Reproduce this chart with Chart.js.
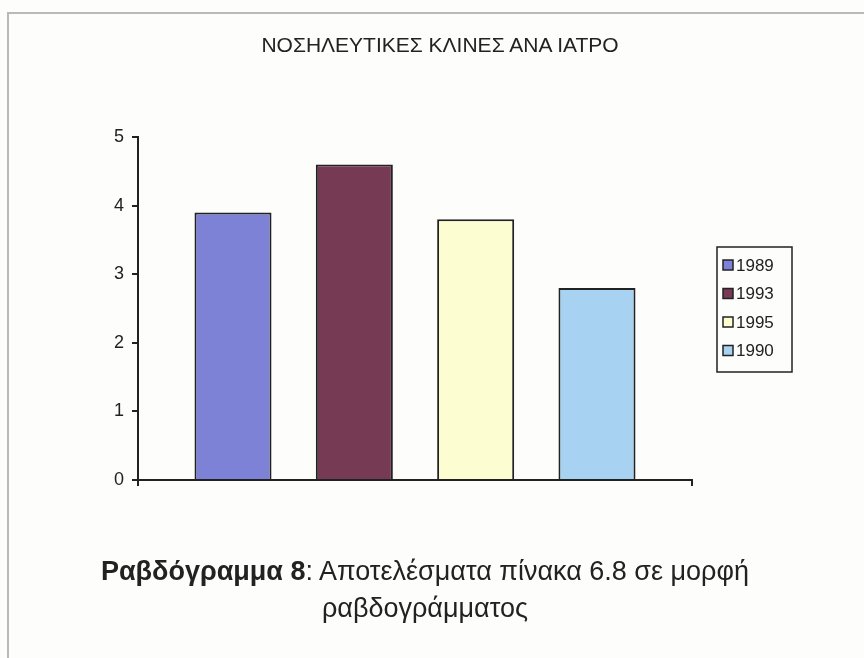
<!DOCTYPE html>
<html>
<head>
<meta charset="utf-8">
<script src="https://cdn.jsdelivr.net/npm/chart.js@4.4.1/dist/chart.umd.min.js"></script>
<style>
  html, body { margin: 0; padding: 0; background: #fdfdfb; }
  #wrap { position: relative; width: 864px; height: 658px; overflow: hidden; }
  #frame {
    position: absolute; left: 7px; top: 12px; right: -4px; bottom: -4px;
    border-top: 2px solid #b9b9b9; border-left: 2px solid #b9b9b9;
  }
  #myChart { position: absolute; left: 0; top: 0; }
  #title {
    position: absolute; left: 240px; width: 400px; top: 33px;
    text-align: center; font-family: "Liberation Sans", Arial, sans-serif;
    font-size: 21px; line-height: 24px; color: #222;
  }
  #caption {
    position: absolute; left: 0; width: 850px; top: 553px;
    text-align: center; font-family: "Liberation Sans", Arial, sans-serif;
    font-size: 27px; line-height: 37px; color: #222;
  }
</style>
</head>
<body>
<div id="wrap">
  <div id="frame"></div>
  <canvas id="myChart" width="864" height="658"></canvas>
  <div id="title">ΝΟΣΗΛΕΥΤΙΚΕΣ ΚΛΙΝΕΣ ΑΝΑ ΙΑΤΡΟ</div>
  <div id="caption"><b>Ραβδόγραμμα 8</b>: Αποτελέσματα πίνακα 6.8 σε μορφή<br>ραβδογράμματος</div>
</div>
<script>
// series (one bar per year, single category)
const years = ["1989", "1993", "1995", "1990"];
const beds = [3.9, 4.6, 3.8, 2.8];
const colors = ["#7d82d6", "#763a55", "#fdfdd2", "#a8d2f2"];
const yTicks = [0, 1, 2, 3, 4, 5];

const FONT = "'Liberation Sans', Arial, sans-serif";

// framed legend box at the right
const boxLegend = {
  id: "boxLegend",
  afterDraw(chart) {
    const ctx = chart.ctx;
    const x = 717, y = 247, w = 75, h = 125;
    ctx.save();
    ctx.strokeStyle = "#222";
    ctx.lineWidth = 1.5;
    ctx.strokeRect(x, y, w, h);
    ctx.font = "17px " + FONT;
    ctx.textBaseline = "middle";
    chart.data.datasets.forEach((ds, i) => {
      const cy = 265 + i * 28.5;
      ctx.fillStyle = ds.backgroundColor;
      ctx.fillRect(723, cy - 5, 10, 10);
      ctx.lineWidth = 1.5;
      ctx.strokeStyle = "#222";
      ctx.strokeRect(723, cy - 5, 10, 10);
      ctx.fillStyle = "#222";
      ctx.fillText(ds.label, 736, cy + 1);
    });
    ctx.restore();
  }
};

const datasets = years.map((y, i) => ({
  label: y,
  data: [beds[i]],
  backgroundColor: colors[i],
  borderColor: "#222",
  borderWidth: 2,
  borderSkipped: "bottom",
  categoryPercentage: 0.876,
  barPercentage: 0.635
}));

const ctx = document.getElementById("myChart").getContext("2d");
const chart = new Chart(ctx, {
  type: "bar",
  data: { labels: [""], datasets: datasets },
  options: {
    responsive: false,
    animation: false,
    layout: { padding: { left: 0, right: 172, top: 137, bottom: 172 } },
    plugins: {
      legend: { display: false },
      tooltip: { enabled: false },
      title: { display: false }
    },
    scales: {
      x: {
        grid: { display: true, drawOnChartArea: false, offset: true, tickLength: 6, color: "#222", lineWidth: 2 },
        border: { color: "#222", width: 2 },
        ticks: { display: false },
        afterFit: (s) => { s.height = 6; }
      },
      y: {
        min: 0,
        max: 5,
        afterBuildTicks: (s) => { s.ticks = yTicks.map(v => ({ value: v })); },
        grid: { display: true, drawOnChartArea: false, tickLength: 6, color: "#222", lineWidth: 2 },
        border: { color: "#222", width: 2 },
        ticks: { color: "#222", padding: 8, font: { family: FONT, size: 18 } },
        afterFit: (s) => { s.width = 138; }
      }
    }
  },
  plugins: [boxLegend]
});
</script>
</body>
</html>
